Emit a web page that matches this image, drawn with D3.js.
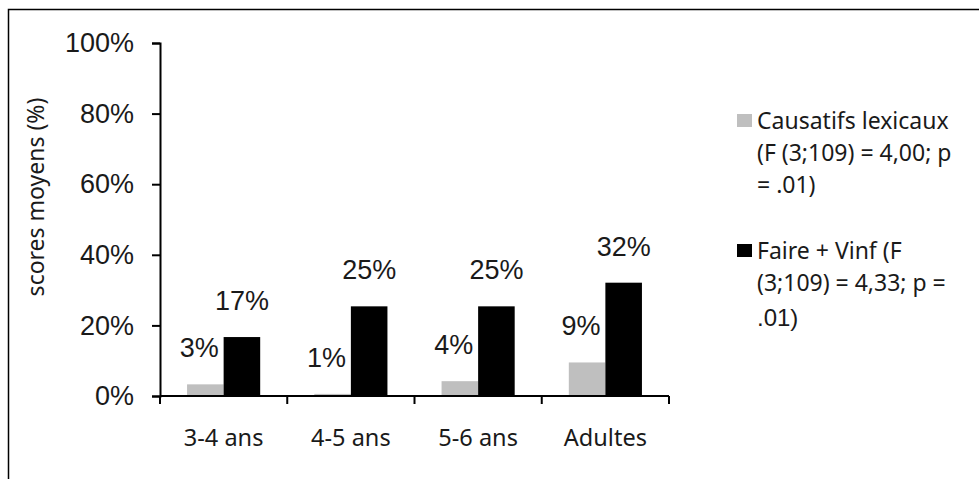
<!DOCTYPE html>
<html>
<head>
<meta charset="utf-8">
<script src="https://cdn.jsdelivr.net/npm/d3@7"></script>
<style>
  body { margin: 0; background: #fff; }
  svg { display: block; }
</style>
</head>
<body>
<svg></svg>
<script>
// data
const categories = ["3-4 ans", "4-5 ans", "5-6 ans", "Adultes"];
const seriesNames = ["Causatifs lexicaux", "Faire + Vinf"];
const lexicaux = [3.3, 0.6, 4.2, 9.5];
const faireVinf = [16.7, 25.4, 25.4, 32.1];
const lexLabels = ["3%", "1%", "4%", "9%"];
const faireLabels = ["17%", "25%", "25%", "32%"];
const yTicks = [0, 20, 40, 60, 80, 100];
const legendLines = [
  ["Causatifs lexicaux", "(F (3;109) = 4,00; p", "= .01)"],
  ["Faire + Vinf (F", "(3;109) = 4,33; p =", ".01)"]
];
const colors = ["#bfbfbf", "#000000"];

const width = 979, height = 479;
const svg = d3.select("svg").attr("width", width).attr("height", height);

const numFont = "Liberation Sans, Arial, sans-serif";
const txtFont = "Noto Sans, Open Sans, sans-serif";

// frame (top and left edges only are visible)
svg.append("path")
  .attr("d", `M8.5,${height} V9.5 H${width}`)
  .attr("fill", "none")
  .attr("stroke", "#000")
  .attr("stroke-width", 1.5);

const x0 = d3.scaleBand().domain(categories).range([160, 669]);
const x1 = d3.scaleBand().domain([0, 1]).range([0, x0.bandwidth()]).paddingOuter(0.74);
const y = d3.scaleLinear().domain([0, 100]).range([396, 43]);

const rows = categories.map((c, i) => ({
  cat: c,
  vals: [lexicaux[i], faireVinf[i]],
  labels: [lexLabels[i], faireLabels[i]]
}));

// bars
const groups = svg.append("g")
  .selectAll("g")
  .data(rows)
  .join("g")
  .attr("transform", d => `translate(${x0(d.cat)},0)`);

groups.selectAll("rect")
  .data(d => d.vals.map((v, k) => ({ v, k })))
  .join("rect")
  .attr("x", d => x1(d.k))
  .attr("width", x1.bandwidth())
  .attr("y", d => y(d.v))
  .attr("height", d => y(0) - y(d.v))
  .attr("fill", d => colors[d.k]);

// data labels
groups.selectAll("text")
  .data(d => d.vals.map((v, k) => ({ v, k, t: d.labels[k] })))
  .join("text")
  .attr("x", d => x1(d.k) + x1.bandwidth() / 2 + (d.k === 0 ? -6 : 0))
  .attr("y", d => y(d.v) - 27)
  .attr("text-anchor", "middle")
  .style("font-family", numFont)
  .style("font-size", "27px")
  .attr("fill", "#1a1a1a")
  .text(d => d.t);

// y axis
const yAxis = svg.append("g")
  .attr("transform", "translate(160,0)")
  .call(d3.axisLeft(y).tickValues(yTicks).tickFormat(d => d + "%").tickSize(8).tickPadding(18));
yAxis.select(".domain").attr("stroke-width", 2);
yAxis.selectAll(".tick line").attr("stroke-width", 2);
yAxis.selectAll("text")
  .style("font-family", numFont)
  .style("font-size", "27px")
  .attr("fill", "#1a1a1a");

// x axis: ticks on band boundaries
const xAxis = svg.append("g").attr("transform", "translate(0,396)");
xAxis.append("line")
  .attr("x1", x0.range()[0]).attr("x2", x0.range()[1])
  .attr("stroke", "#000").attr("stroke-width", 2);
const bounds = categories.map(c => x0(c)).concat([x0.range()[1]]);
xAxis.selectAll(".tk")
  .data(bounds)
  .join("line")
  .attr("class", "tk")
  .attr("x1", d => d).attr("x2", d => d)
  .attr("y1", 0).attr("y2", 8)
  .attr("stroke", "#000").attr("stroke-width", 2);
xAxis.selectAll(".cat")
  .data(categories)
  .join("text")
  .attr("class", "cat")
  .attr("x", d => x0(d) + x0.bandwidth() / 2)
  .attr("y", 50)
  .attr("text-anchor", "middle")
  .style("font-family", txtFont)
  .style("font-size", "23.5px")
  .attr("fill", "#1a1a1a")
  .text(d => d);

// y title
svg.append("text")
  .attr("transform", "translate(44,197) rotate(-90)")
  .attr("text-anchor", "middle")
  .style("font-family", txtFont)
  .style("font-size", "23px")
  .attr("fill", "#1a1a1a")
  .text("scores moyens (%)");

// legend
const legend = svg.append("g");
const legendTop = [129, 259];
legendLines.forEach((lines, k) => {
  legend.append("rect")
    .attr("x", 737).attr("y", legendTop[k] - 15)
    .attr("width", 15).attr("height", 13)
    .attr("fill", colors[k]);
  lines.forEach((t, j) => {
    const big = (k === 1 && j === 2);
    legend.append("text")
      .attr("x", 757)
      .attr("y", legendTop[k] + j * 32 + (big ? 3 : 0))
      .style("font-family", big ? numFont : txtFont)
      .style("font-size", big ? "24px" : "23px")
      .attr("fill", "#1a1a1a")
      .text(t);
  });
});
</script>
</body>
</html>
